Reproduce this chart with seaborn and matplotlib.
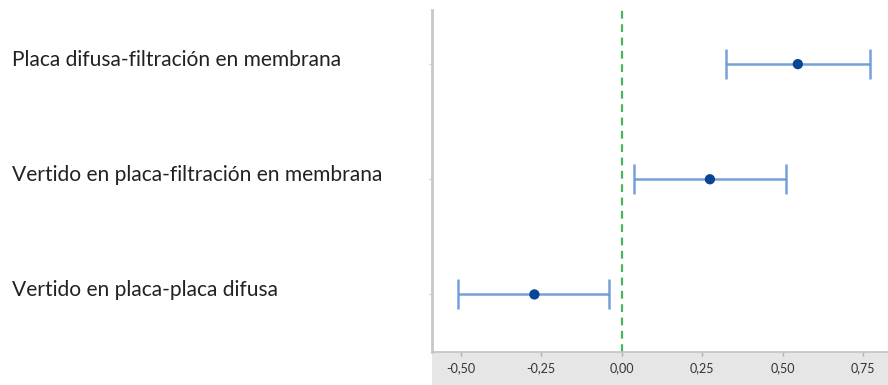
import matplotlib
matplotlib.use("Agg")
import matplotlib.pyplot as plt
import matplotlib.transforms as mtransforms
from matplotlib.patches import Rectangle
from matplotlib.ticker import FixedLocator, FuncFormatter
import seaborn as sns
import pandas as pd

# Pairwise differences of means with confidence intervals
comparisons = [
    "Placa difusa-filtración en membrana",
    "Vertido en placa-filtración en membrana",
    "Vertido en placa-placa difusa",
]
diff_mean = [0.547, 0.274, -0.271]
ci_lower = [0.323, 0.039, -0.509]
ci_upper = [0.771, 0.509, -0.038]
x_ticks = [-0.50, -0.25, 0.00, 0.25, 0.50, 0.75]

df = pd.DataFrame({"comparison": comparisons, "diff": diff_mean,
                   "lo": ci_lower, "hi": ci_upper})
df["row"] = range(len(df))

sns.set_style("white")
plt.rcParams["font.family"] = ["Lato", "DejaVu Sans"]

W, H = 888, 385
fig = plt.figure(figsize=(W / 100, H / 100), dpi=100)
ax_left, ax_right, ax_bottom, ax_top = 432, 888, 352, 10
ax = fig.add_axes([ax_left / W, 1 - ax_bottom / H,
                   (ax_right - ax_left) / W, (ax_bottom - ax_top) / H])
ax.set_zorder(2)

# grey band behind the x tick labels
fig.patches.append(Rectangle((ax_left / W, 0), (ax_right - ax_left) / W,
                             (H - ax_bottom) / H, transform=fig.transFigure,
                             facecolor="#e6e6e6", edgecolor="none", zorder=-1))

# reference line at zero
ax.axvline(0, color="#4cb45c", linestyle=(0, (3.5, 2.5)), linewidth=1.6, zorder=1)

# confidence interval bars
ax.errorbar(df["diff"], df["row"],
            xerr=[df["diff"] - df["lo"], df["hi"] - df["diff"]],
            fmt="none", ecolor="#6797d4", elinewidth=1.8, capsize=11,
            capthick=1.8, alpha=0.9, zorder=2)

# means
sns.scatterplot(data=df, x="diff", y="row", ax=ax, color="#0a4595",
                s=55, edgecolor="none", zorder=3, legend=False)

ax.set_xlim(-0.589, 0.827)
ax.set_ylim(2.5, -0.47)
ax.xaxis.set_major_locator(FixedLocator(x_ticks))
ax.xaxis.set_major_formatter(FuncFormatter(lambda v, p: f"{v:.2f}".replace(".", ",")))
ax.set_yticks(df["row"])
ax.set_yticklabels([])
ax.set_xlabel("")
ax.set_ylabel("")

for side in ("top", "right"):
    ax.spines[side].set_visible(False)
ax.spines["left"].set_color("#c8c8c8")
ax.spines["left"].set_linewidth(2)
ax.spines["bottom"].set_color("#c4c4c4")
ax.spines["bottom"].set_linewidth(1.2)

ax.tick_params(axis="x", bottom=True, direction="out", length=3, width=1,
               color="#b0b0b0", labelsize=9, labelcolor="#333333", pad=4)
ax.tick_params(axis="y", left=True, direction="out", length=2, width=1,
               color="#d0d0d0")

# comparison labels on the left, aligned with their rows
trans = mtransforms.blended_transform_factory(fig.transFigure, ax.transData)
offset = mtransforms.ScaledTranslation(0, 4 / 100, fig.dpi_scale_trans)
for r, name in zip(df["row"], df["comparison"]):
    ax.text(12 / W, r, name, transform=trans + offset, ha="left", va="center",
            fontsize=15.1, color="#222222", clip_on=False)

fig.savefig("out.png", dpi=100)
